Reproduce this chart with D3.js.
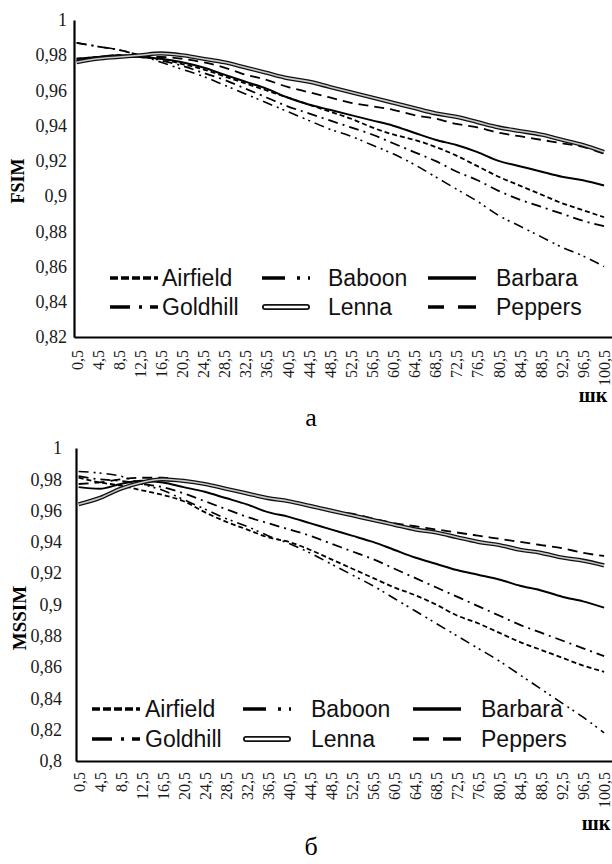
<!DOCTYPE html>
<html>
<head>
<meta charset="utf-8">
<script src="https://cdn.jsdelivr.net/npm/d3@7"></script>
<style>
	body { margin: 0; background: #fff; }
	svg { display: block; }
</style>
</head>
<body>
<div id="chart"></div>
<script>
// categories along the x axis (every 4th one carries a label)
const xCats = [0.5, 4.5, 8.5, 12.5, 16.5, 20.5, 24.5, 28.5, 32.5, 36.5, 40.5, 44.5, 48.5,
	52.5, 56.5, 60.5, 64.5, 68.5, 72.5, 76.5, 80.5, 84.5, 88.5, 92.5, 96.5, 100.5];
const xTickLabels = ["0,5", "4,5", "8,5", "12,5", "16,5", "20,5", "24,5", "28,5", "32,5", "36,5",
	"40,5", "44,5", "48,5", "52,5", "56,5", "60,5", "64,5", "68,5", "72,5", "76,5", "80,5",
	"84,5", "88,5", "92,5", "96,5", "100,5"];

const seriesNames = ["Airfield", "Baboon", "Barbara", "Goldhill", "Lenna", "Peppers"];

const fsimTicks = [0.82, 0.84, 0.86, 0.88, 0.9, 0.92, 0.94, 0.96, 0.98, 1];
const mssimTicks = [0.8, 0.82, 0.84, 0.86, 0.88, 0.9, 0.92, 0.94, 0.96, 0.98, 1];

// FSIM (chart а)
const fsimAirfield = [0.978, 0.979, 0.980, 0.979, 0.978, 0.975, 0.972, 0.968, 0.964, 0.960, 0.956, 0.952, 0.948, 0.944, 0.939, 0.935, 0.932, 0.928, 0.923, 0.917, 0.911, 0.906, 0.901, 0.896, 0.892, 0.888];
const fsimBaboon = [0.987, 0.985, 0.983, 0.980, 0.976, 0.972, 0.968, 0.963, 0.958, 0.953, 0.948, 0.943, 0.938, 0.934, 0.929, 0.924, 0.918, 0.911, 0.904, 0.897, 0.889, 0.883, 0.877, 0.871, 0.866, 0.860];
const fsimBarbara = [0.978, 0.979, 0.980, 0.979, 0.978, 0.976, 0.973, 0.969, 0.965, 0.961, 0.956, 0.952, 0.949, 0.946, 0.943, 0.940, 0.936, 0.932, 0.929, 0.925, 0.920, 0.917, 0.914, 0.911, 0.909, 0.906];
const fsimGoldhill = [0.987, 0.985, 0.983, 0.980, 0.977, 0.974, 0.970, 0.966, 0.961, 0.956, 0.951, 0.947, 0.943, 0.939, 0.935, 0.930, 0.925, 0.920, 0.914, 0.909, 0.903, 0.898, 0.894, 0.890, 0.886, 0.883];
const fsimLenna = [0.976, 0.978, 0.979, 0.980, 0.981, 0.980, 0.978, 0.976, 0.973, 0.970, 0.967, 0.965, 0.962, 0.959, 0.956, 0.953, 0.950, 0.947, 0.945, 0.942, 0.939, 0.937, 0.935, 0.932, 0.929, 0.925];
const fsimPeppers = [0.977, 0.978, 0.979, 0.979, 0.979, 0.978, 0.976, 0.973, 0.969, 0.966, 0.962, 0.959, 0.956, 0.953, 0.951, 0.949, 0.946, 0.944, 0.941, 0.939, 0.936, 0.934, 0.932, 0.930, 0.928, 0.924];

// MSSIM (chart б)
const mssimAirfield = [0.981, 0.978, 0.976, 0.973, 0.970, 0.966, 0.959, 0.953, 0.948, 0.943, 0.940, 0.935, 0.929, 0.923, 0.917, 0.911, 0.906, 0.900, 0.893, 0.888, 0.882, 0.876, 0.871, 0.866, 0.861, 0.857];
const mssimBaboon = [0.985, 0.984, 0.982, 0.977, 0.973, 0.967, 0.961, 0.955, 0.950, 0.944, 0.939, 0.933, 0.926, 0.919, 0.912, 0.904, 0.896, 0.888, 0.880, 0.872, 0.864, 0.855, 0.846, 0.837, 0.828, 0.818];
const mssimBarbara = [0.975, 0.974, 0.977, 0.979, 0.978, 0.975, 0.972, 0.968, 0.964, 0.959, 0.956, 0.952, 0.948, 0.944, 0.940, 0.935, 0.930, 0.926, 0.922, 0.919, 0.916, 0.912, 0.909, 0.905, 0.902, 0.898];
const mssimGoldhill = [0.982, 0.980, 0.979, 0.977, 0.975, 0.971, 0.966, 0.961, 0.956, 0.952, 0.948, 0.944, 0.939, 0.934, 0.929, 0.923, 0.917, 0.911, 0.905, 0.899, 0.893, 0.887, 0.882, 0.877, 0.872, 0.867];
const mssimLenna = [0.964, 0.968, 0.974, 0.978, 0.980, 0.979, 0.977, 0.974, 0.971, 0.968, 0.966, 0.963, 0.960, 0.957, 0.954, 0.951, 0.948, 0.946, 0.943, 0.940, 0.938, 0.935, 0.933, 0.930, 0.928, 0.925];
const mssimPeppers = [0.977, 0.978, 0.980, 0.981, 0.981, 0.979, 0.977, 0.974, 0.971, 0.968, 0.966, 0.963, 0.960, 0.958, 0.955, 0.952, 0.950, 0.948, 0.946, 0.944, 0.942, 0.940, 0.938, 0.936, 0.933, 0.931];

// line look per series: chart dash, legend dash, width
const lineStyle = {
	Airfield: { dash: "5,3", legendDash: "8,3", w: 1.8 },
	Baboon: { dash: "10,5,2,4,2,5", legendDash: "23,12,3,8,3,20", w: 1.6 },
	Barbara: { dash: null, legendDash: null, w: 2 },
	Goldhill: { dash: "10,5,2,5", legendDash: "20,9,3,8,10", w: 1.8 },
	Lenna: { dash: null, legendDash: null, w: 1.6, double: true },
	Peppers: { dash: "10,6", legendDash: "16,14,18", w: 1.8 }
};

const svg = d3.select('#chart').append('svg')
	.attr("width", 612).attr("height", 864);

const fmt = v => String(v).replace('.', ',');

function drawPanel(p) {
	const g = svg.append('g');

	var x = d3.scaleLinear().domain([0, 102]).range([p.left, 612]);
	var y = d3.scaleLinear().domain([p.yMin, 1]).range([p.bottom, p.top]);

	// y axis
	var yAxis = g.append('g')
		.attr("transform", "translate(" + p.left + ",0)")
		.call(d3.axisLeft(y).tickValues(p.yTicks).tickSize(0).tickSizeOuter(0)
			.tickPadding(p.yPad).tickFormat(fmt));
	yAxis.select('.domain').attr("stroke", "#000").attr("stroke-width", 2.2);
	yAxis.selectAll('text')
		.style("font-family", "'Liberation Serif', 'Times New Roman', serif")
		.style("font-size", "18px")
		.attr("fill", "#1a1a1a");

	// x axis with vertical labels
	var xAxis = g.append('g')
		.attr("transform", "translate(0," + p.bottom + ")")
		.call(d3.axisBottom(x).tickValues(xCats).tickSize(0).tickSizeOuter(0)
			.tickFormat((d, i) => xTickLabels[i]));
	xAxis.select('.domain').attr("stroke", "#000").attr("stroke-width", 2.2);
	xAxis.selectAll('text')
		.attr("transform", "rotate(-90)")
		.attr("text-anchor", "end")
		.attr("x", -p.xPad)
		.attr("y", 0)
		.attr("dy", "0.34em")
		.style("font-family", "'Liberation Serif', 'Times New Roman', serif")
		.style("font-size", "16px")
		.attr("fill", "#1a1a1a");

	// the lines
	var line = d3.line()
		.x(d => x(d.c))
		.y(d => y(d.v))
		.curve(d3.curveMonotoneX);

	var order = ["Baboon", "Goldhill", "Airfield", "Barbara", "Peppers", "Lenna"];
	order.forEach(function (name) {
		var vals = p.series[name];
		var pts = xCats.map((c, i) => ({ c: c, v: vals[i] }));
		var st = lineStyle[name];
		if (st.double) {
			g.append('path').datum(pts).attr("d", line)
				.attr("fill", "none").attr("stroke", "#111").attr("stroke-width", 4.2);
			g.append('path').datum(pts).attr("d", line)
				.attr("fill", "none").attr("stroke", "#c8c8c8").attr("stroke-width", 1.6);
		} else {
			g.append('path').datum(pts).attr("d", line)
				.attr("fill", "none").attr("stroke", "#000")
				.attr("stroke-width", st.w)
				.attr("stroke-dasharray", st.dash);
		}
	});

	// legend, 2 rows x 3 columns
	var lx = p.legendX, tx = p.legendTextX;
	seriesNames.forEach(function (name, i) {
		var row = Math.floor(i / 3), col = i % 3;
		var ly = p.legendY[row];
		var st = lineStyle[name];
		var x0 = lx[col], x1 = lx[col] + 48;
		if (st.double) {
			g.append('line').attr("x1", x0 + 3).attr("x2", x1 - 3).attr("y1", ly).attr("y2", ly)
				.attr("stroke", "#111").attr("stroke-width", 6).attr("stroke-linecap", "round");
			g.append('line').attr("x1", x0 + 3).attr("x2", x1 - 3).attr("y1", ly).attr("y2", ly)
				.attr("stroke", "#fff").attr("stroke-width", 2.4).attr("stroke-linecap", "round");
		} else {
			g.append('line').attr("x1", x0).attr("x2", x1).attr("y1", ly).attr("y2", ly)
				.attr("stroke", "#000").attr("stroke-width", 3.6)
				.attr("stroke-dasharray", st.legendDash);
		}
		g.append('text')
			.attr("x", tx[col]).attr("y", ly)
			.attr("dy", "0.36em")
			.style("font-family", "'Liberation Sans', Arial, sans-serif")
			.style("font-size", "23px")
			.attr("fill", "#111")
			.text(name);
	});

	// axis titles
	g.append('text')
		.attr("transform", "translate(" + p.titleX + "," + p.titleY + ") rotate(-90)")
		.attr("text-anchor", "middle")
		.attr("dy", "0.35em")
		.style("font-family", "'Liberation Serif', 'Times New Roman', serif")
		.style("font-weight", "bold")
		.style("font-size", p.titleSize + "px")
		.text(p.title);

	g.append('text')
		.attr("x", p.unitX).attr("y", p.unitY)
		.attr("text-anchor", "middle")
		.style("font-family", "'Liberation Serif', 'Times New Roman', serif")
		.style("font-weight", "bold")
		.style("font-size", "20px")
		.text("шк");

	g.append('text')
		.attr("x", 311).attr("y", p.captionY)
		.attr("text-anchor", "middle")
		.style("font-family", "'Liberation Serif', 'Times New Roman', serif")
		.style("font-size", "26px")
		.text(p.caption);
}

drawPanel({
	left: 74, top: 20, bottom: 337, yMin: 0.82, yTicks: fsimTicks,
	yPad: 7, xPad: 13,
	series: { Airfield: fsimAirfield, Baboon: fsimBaboon, Barbara: fsimBarbara,
		Goldhill: fsimGoldhill, Lenna: fsimLenna, Peppers: fsimPeppers },
	legendX: [110, 262, 428], legendTextX: [162, 328, 496], legendY: [278, 307],
	title: "FSIM", titleX: 18, titleY: 181, titleSize: 18,
	unitX: 593, unitY: 402, caption: "а", captionY: 426
});

drawPanel({
	left: 76, top: 448, bottom: 761, yMin: 0.8, yTicks: mssimTicks,
	yPad: 14, xPad: 11,
	series: { Airfield: mssimAirfield, Baboon: mssimBaboon, Barbara: mssimBarbara,
		Goldhill: mssimGoldhill, Lenna: mssimLenna, Peppers: mssimPeppers },
	legendX: [92, 243, 413], legendTextX: [145, 311, 481], legendY: [709, 739],
	title: "MSSIM", titleX: 19, titleY: 618, titleSize: 19,
	unitX: 596, unitY: 830, caption: "б", captionY: 855
});
</script>
</body>
</html>
